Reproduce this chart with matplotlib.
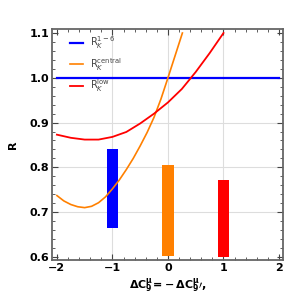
import numpy as np
import matplotlib
matplotlib.use("Agg")
import matplotlib.pyplot as plt
from matplotlib.ticker import MultipleLocator

# curves (x = Delta C9)
x_central = [-2.0, -1.875, -1.75, -1.625, -1.5, -1.375, -1.25, -1.125, -1.0,
             -0.875, -0.75, -0.625, -0.5, -0.375, -0.25, -0.125, 0.0, 0.125, 0.26]
r_central = [0.737, 0.725, 0.717, 0.712, 0.710, 0.713, 0.721, 0.734, 0.752,
             0.772, 0.795, 0.820, 0.848, 0.878, 0.912, 0.953, 1.000, 1.048, 1.100]

x_low = [-2.0, -1.75, -1.5, -1.25, -1.0, -0.75, -0.5, -0.25, 0.0,
         0.25, 0.5, 0.75, 1.0]
r_low = [0.873, 0.866, 0.862, 0.862, 0.868, 0.879, 0.898, 0.920, 0.945,
         0.975, 1.013, 1.055, 1.100]

x_16 = [-2.0, 2.0]
r_16 = [1.0, 1.0]

# measured ranges (bars)
bar_x = [-1, 0, 1]
bar_lo = [0.664, 0.602, 0.600]
bar_hi = [0.842, 0.806, 0.772]
bar_colors = ['#0000ff', '#ff8000', '#ff0000']

plt.rcParams['mathtext.fontset'] = 'dejavusans'

fig = plt.figure(figsize=(3.0, 3.02), dpi=100)
ax = fig.add_axes([0.173, 0.139, 0.77, 0.765])

# grid
for g in [-1, 0, 1]:
    ax.axvline(g, color='#dddddd', lw=0.8, zorder=0)
for g in [0.7, 0.8, 0.9, 1.0]:
    ax.axhline(g, color='#dddddd', lw=0.8, zorder=0)

ax.bar(bar_x, np.array(bar_hi) - np.array(bar_lo), bottom=bar_lo, width=0.2,
       color=bar_colors, zorder=2)

ax.plot(x_16, r_16, color='#0000ff', lw=1.6, label=r'$\mathrm{R}_K^{1-6}$', zorder=3)
ax.plot(x_central, r_central, color='#ff8000', lw=1.2, label=r'$\mathrm{R}_K^{\mathrm{central}}$', zorder=3)
ax.plot(x_low, r_low, color='#ff0000', lw=1.3, label=r'$\mathrm{R}_K^{\mathrm{low}}$', zorder=3)

ax.set_xlim(-2.09, 2.07)
ax.set_ylim(0.593, 1.109)
ax.xaxis.set_major_locator(MultipleLocator(1))
ax.xaxis.set_minor_locator(MultipleLocator(0.2))
ax.yaxis.set_major_locator(MultipleLocator(0.1))
ax.yaxis.set_minor_locator(MultipleLocator(0.02))
ax.tick_params(which='both', direction='in', top=True, right=True,
               labeltop=False, labelright=False, color='#444444')
ax.tick_params(which='major', length=4, width=0.8, labelsize=8, pad=2)
ax.tick_params(which='minor', length=2, width=0.6)
ax.set_xticks([-2, -1, 0, 1, 2])
ax.set_xticklabels(['\u22122', '\u22121', '0', '1', '2'], fontweight='bold')
ax.set_yticks([0.6, 0.7, 0.8, 0.9, 1.0, 1.1])
ax.set_yticklabels(['0.6', '0.7', '0.8', '0.9', '1.0', '1.1'], fontweight='bold')

for s in ax.spines.values():
    s.set_color('#666666')
    s.set_linewidth(1.3)

ax.set_ylabel('R', fontsize=8, fontweight='bold', labelpad=8)
ax.set_xlabel(r'$\mathbf{\Delta C_9^{\mu}\!=\!-\Delta C_9^{\mu}\prime,}$', fontsize=8, labelpad=3)

ax.legend(loc='upper left', bbox_to_anchor=(0.04, 1.015), frameon=False,
          fontsize=7, handlelength=1.3, labelspacing=0.5, labelcolor='#444444')

fig.savefig('out.png', dpi=100)
